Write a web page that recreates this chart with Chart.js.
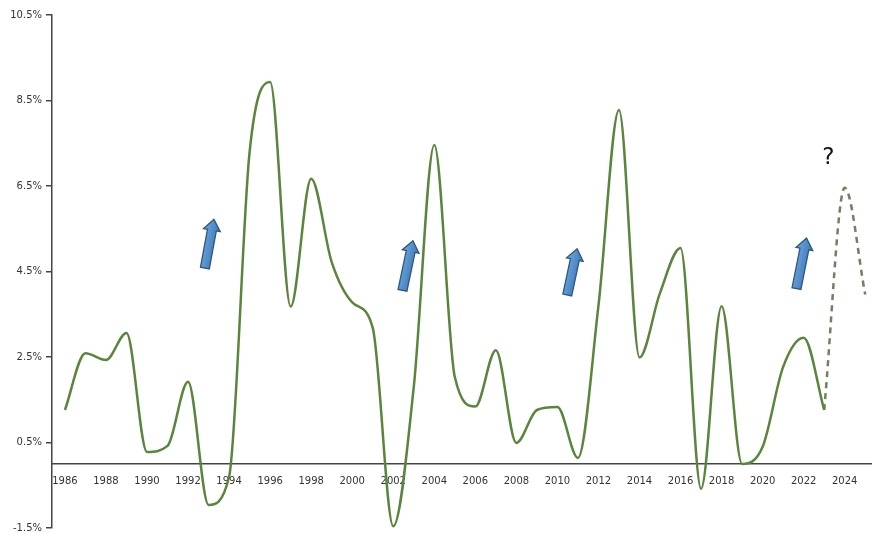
<!DOCTYPE html>
<html>
<head>
<meta charset="utf-8">
<script src="https://cdn.jsdelivr.net/npm/chart.js@4.4.1/dist/chart.umd.min.js"></script>
<style>
  html, body { margin: 0; padding: 0; background: #ffffff; }
  #wrap { width: 872px; height: 534px; position: relative; }
</style>
</head>
<body>
<div id="wrap"><canvas id="c" width="872" height="534"></canvas></div>
<script>
// Annual growth, 1986-2025 (percent)
const years = [1986, 1987, 1988, 1989, 1990, 1991, 1992, 1993, 1994, 1995,
               1996, 1997, 1998, 1999, 2000, 2001, 2002, 2003, 2004, 2005,
               2006, 2007, 2008, 2009, 2010, 2011, 2012, 2013, 2014, 2015,
               2016, 2017, 2018, 2019, 2020, 2021, 2022, 2023, 2024, 2025];

const actual = [1.26, 2.59, 2.43, 3.06, 0.28, 0.42, 1.92, -0.96, -0.3, 7.3,
                8.93, 3.68, 6.67, 4.72, 3.78, 3.18, -1.46, 1.8, 7.46, 2.03,
                1.34, 2.66, 0.49, 1.26, 1.33, 0.14, 3.7, 8.28, 2.49, 4.0,
                5.05, -0.58, 3.69, 0.0, 0.4, 2.27, 2.95, 1.26, null, null];

// Projected path after the last actual year
const projected = [null, null, null, null, null, null, null, null, null, null,
                   null, null, null, null, null, null, null, null, null, null,
                   null, null, null, null, null, null, null, null, null, null,
                   null, null, null, null, null, null, null, 1.26, 6.46, 3.96];

const xTickYears = [1986, 1988, 1990, 1992, 1994, 1996, 1998, 2000, 2002, 2004,
                    2006, 2008, 2010, 2012, 2014, 2016, 2018, 2020, 2022, 2024];
const yTickValues = [-1.5, 0.5, 2.5, 4.5, 6.5, 8.5, 10.5];

// Upward arrows before each upswing: [tailYear, tailValue, tipYear, tipValue]
const upArrows = [
  [1992.82, 4.58, 1993.26, 5.72],
  [2002.45, 4.06, 2002.96, 5.22],
  [2010.48, 3.95, 2010.96, 5.03],
  [2021.65, 4.10, 2022.14, 5.28]
];
const questionMark = { year: 2023.2, value: 7.15, text: '?' };

const toPoints = arr => years.map((y, i) => ({ x: y, y: arr[i] }));

const markers = {
  id: 'markers',
  afterDatasetsDraw(chart) {
    const { ctx, scales: { x, y } } = chart;
    ctx.save();
    upArrows.forEach(([x0, y0, x1, y1]) => {
      const px0 = x.getPixelForValue(x0), py0 = y.getPixelForValue(y0);
      const px1 = x.getPixelForValue(x1), py1 = y.getPixelForValue(y1);
      const dx = px1 - px0, dy = py1 - py0;
      const len = Math.hypot(dx, dy);
      const ang = Math.atan2(dy, dx);
      const shaft = 4.5, head = 8.5, headLen = 11;
      ctx.save();
      ctx.translate(px0, py0);
      ctx.rotate(ang);
      ctx.beginPath();
      ctx.moveTo(0, -shaft);
      ctx.lineTo(len - headLen, -shaft);
      ctx.lineTo(len - headLen, -head);
      ctx.lineTo(len, 0);
      ctx.lineTo(len - headLen, head);
      ctx.lineTo(len - headLen, shaft);
      ctx.lineTo(0, shaft);
      ctx.closePath();
      const g = ctx.createLinearGradient(0, -head, 0, head);
      g.addColorStop(0, '#6fa8dc');
      g.addColorStop(1, '#3d78b8');
      ctx.fillStyle = g;
      ctx.fill();
      ctx.lineWidth = 1.3;
      ctx.strokeStyle = '#2f5680';
      ctx.stroke();
      ctx.restore();
    });
    ctx.fillStyle = '#111111';
    ctx.font = '23px "DejaVu Sans", sans-serif';
    ctx.textAlign = 'center';
    ctx.textBaseline = 'middle';
    ctx.fillText(questionMark.text, x.getPixelForValue(questionMark.year), y.getPixelForValue(questionMark.value));
    ctx.restore();
  }
};

new Chart(document.getElementById('c'), {
  type: 'line',
  data: {
    datasets: [
      {
        data: toPoints(actual),
        borderColor: '#5a853d',
        borderWidth: 2.5,
        pointRadius: 0,
        cubicInterpolationMode: 'monotone',
        fill: false
      },
      {
        data: toPoints(projected),
        borderColor: '#737f62',
        borderWidth: 2.5,
        borderDash: [6, 5],
        pointRadius: 0,
        cubicInterpolationMode: 'monotone',
        fill: false
      }
    ]
  },
  options: {
    responsive: false,
    animation: false,
    events: [],
    layout: { padding: { top: 15, bottom: 6, left: 0, right: 0 } },
    plugins: { legend: { display: false }, tooltip: { enabled: false } },
    scales: {
      x: {
        type: 'linear',
        position: { y: 0 },
        min: 1985.37,
        max: 2025.33,
        afterBuildTicks: s => { s.ticks = xTickYears.map(v => ({ value: v })); },
        afterFit: s => { s.height = 0; s.paddingLeft = 0; s.paddingRight = 0; },
        grid: { display: false, drawTicks: false },
        border: { display: true, color: '#444444', width: 1.5 },
        ticks: {
          padding: 12,
          color: '#333333',
          font: { family: '"DejaVu Sans", sans-serif', size: 10 },
          callback: v => String(v),
          maxRotation: 0,
          autoSkip: false
        }
      },
      y: {
        type: 'linear',
        min: -1.5,
        max: 10.5,
        afterBuildTicks: s => { s.ticks = yTickValues.map(v => ({ value: v })); },
        afterFit: s => { s.width = 52; s.paddingTop = 0; s.paddingBottom = 0; },
        grid: { display: true, drawOnChartArea: false, drawTicks: true, tickLength: 6, color: '#444444', lineWidth: 1.5 },
        border: { display: true, color: '#444444', width: 1.5 },
        ticks: {
          padding: 4,
          color: '#333333',
          font: { family: '"DejaVu Sans", sans-serif', size: 10 },
          callback: v => v.toFixed(1) + '%'
        }
      }
    }
  },
  plugins: [markers]
});
</script>
</body>
</html>
